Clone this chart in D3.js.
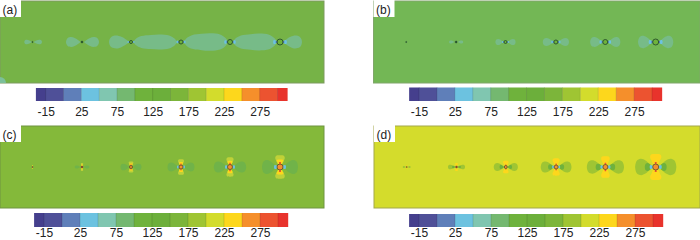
<!DOCTYPE html>
<html><head><meta charset="utf-8">
<script src="https://cdnjs.cloudflare.com/ajax/libs/d3/7.8.5/d3.min.js"></script>
<style>html,body{margin:0;padding:0;background:#fff;overflow:hidden}svg{display:block}text{font-family:"Liberation Sans",Arial,sans-serif;fill:#222}</style>
</head><body><svg id="c" width="700" height="240"></svg>
<script>
// Colour bar
const barColors=["#453f8d","#4f5098","#5f7fb9","#6cc2e0","#80c6b0","#74b870","#6fb23c","#6caf3b","#7cb53a","#9fc533","#d3dc2c","#fdd71c","#f58f2b","#ec5330","#e8332c"];
const barEdges=[-0.55,0,1,2,3,4,5,6,7,8,9,10,11,12,13,13.55];
const tickLabels=["-15","25","75","125","175","225","275"];
const tickIndex=[0,2,4,6,8,10,12];
// Hole positions along the plate, and ring radii
const holes=[32.5,82,131,181,230,280];
const holeR=[0.6,1,1.5,2,2.5,3];
// Contour lobes of plate (a): [hole side, far side, half height]
const lobesA=[[32,24.3,2.3],[33.5,42,2.3],[80.5,66,5],[84,99,5],[129.5,109,6.5],[283,302,6.5]];
// Merged lobes of plate (a) between holes: [from, to, half height]
const bandsA=[[133.5,177,7.6],[184,228,8.8],[233,277,8.4]];
// Lobe reach and half height around each hole
const reachB=[0,6,8.5,11,12.5,14.5], heightB=[0,1.5,3,4,5,6.2];
const reachC=[0,6.3,9,11.5,13.7,15], heightC=[0,1.5,3.3,4.5,5.5,7];
const vertC=[1.5,3,4,5.7,7.2,8.7], widthC=[.6,1.2,2.4,3,3.6,4.8];
const reachD=[3.3,7.5,10.5,13.3,16,17.5], heightD=[1,2.3,4,5.5,6.7,8.2];
const vertD=[1.2,3,4.7,6.7,8.3,10], widthD=[.6,1.4,2.8,3.6,4.3,5.6];
const labels=["(a)","(b)","(c)","(d)"];

const svg=d3.select("#c");
const panels=[
 {label:labels[0],x0:0,x1:324,y0:1,y1:83,bg:"#76b347",edge:"#7c9a5e",bx0:45.7,bx1:277.5,by0:88,by1:101,ty:115.5},
 {label:labels[1],x0:373.5,x1:700,y0:1,y1:83,bg:"#73b755",edge:"#80a66a",bx0:419,bx1:652,by0:87.5,by1:101,ty:115.5},
 {label:labels[2],x0:0,x1:324,y0:126,y1:208,bg:"#84b93a",edge:"#6f9440",bx0:44,bx1:278,by0:213,by1:227,ty:237.4},
 {label:labels[3],x0:374,x1:700,y0:126,y1:208,bg:"#d4dc2c",edge:"#a3a84a",bx0:419,bx1:653,by0:214,by1:227,ty:237.4}
];
const tear=[[0,0],[.15,.35],[.4,.8],[.65,1],[.88,.82],[.97,.42],[1,0]];
const flat=[[0,0],[.05,.4],[.18,.78],[.4,.93],[.6,1],[.82,.86],[.95,.42],[1,0]];
const shape=d3.area().curve(d3.curveCatmullRom.alpha(.5));
panels.forEach((p,pi)=>{
 const g=svg.append("g");
 const x=d3.scaleLinear().domain([0,324]).range([p.x0,p.x1]);
 const y=d3.scaleLinear().domain([-41,41]).range([p.y0,p.y1]);
 g.append("rect").attr("x",p.x0).attr("y",p.y0).attr("width",p.x1-p.x0).attr("height",p.y1-p.y0).attr("fill",p.bg).attr("stroke",p.edge);
 const clip="clip"+pi;
 g.append("clipPath").attr("id",clip).append("rect").attr("x",p.x0).attr("y",p.y0).attr("width",p.x1-p.x0).attr("height",p.y1-p.y0);
 const m=g.append("g").attr("clip-path",`url(#${clip})`);
 const hLobe=(a,b,h,c,prof=tear)=>{
   const pts=prof.map(d=>({x:a+d[0]*(b-a),h:d[1]*h}));
   m.append("path").attr("d",shape.x(d=>x(d.x)).y0(d=>y(-d.h)).y1(d=>y(d.h))(pts)).attr("fill",c);};
 const vLobe=(cx,a,b,w,c)=>{const L=b-a;
   const pts=[[0,.5],[.3,.7],[.7,1],[.95,.8],[1,0]].map(d=>({y:a+d[0]*L,w:d[1]*w}));
   const ar=d3.area().curve(d3.curveCatmullRom.alpha(.5)).y(d=>y(d.y)).x0(d=>x(cx-d.w)).x1(d=>x(cx+d.w));
   m.append("path").attr("d",ar(pts)).attr("fill",c);};
 if(pi===0){
   lobesA.forEach(l=>hLobe(l[0],l[1],l[2],"#77bb88"));
   bandsA.forEach(l=>hLobe(l[0],l[1],l[2],"#77bb88",flat));
   m.append("circle").attr("cx",x(0)).attr("cy",y(41)).attr("r",6).attr("fill","#7cc09a");
 }
 holes.forEach((h,i)=>{
  const r=holeR[i];
  if(pi===1&&reachB[i]>0){[-1,1].forEach(s=>hLobe(h+s*(r+.7),h+s*(r+reachB[i]),heightB[i],"#77bb88"));}
  if(pi===2){
    if(reachC[i]>0)[-1,1].forEach(s=>{hLobe(h+s*(r+.5),h+s*(r+reachC[i]),heightC[i],"#70b349");});
    [-1,1].forEach(s=>{vLobe(h,s*r,s*(r+vertC[i]),widthC[i],"#bfd138");
      vLobe(h,s*r,s*(r+vertC[i]*.52),widthC[i]*.72,"#fdd71c");});
  }
  if(pi===3){
    [-1,1].forEach(s=>{hLobe(h+s*(r+.3),h+s*(r+reachD[i]),heightD[i],"#9fc533");
      if(i>0)hLobe(h+s*(r+.3),h+s*(r+reachD[i]*.45),heightD[i]*.5,"#6fb23c");});
    [-1,1].forEach(s=>vLobe(h,s*r,s*(r+vertD[i]),widthD[i],"#fdd71c"));
  }
  if(pi<2){
    if(i>1)[-1,1].forEach(s=>{hLobe(h+s*r,h+s*(r+r*1.3),r*.7,"#6cc2e0");
      m.append("circle").attr("cx",x(h+s*(r+.5))).attr("cy",y(0)).attr("r",r*.25+.2).attr("fill","#4f70b8");});
    m.append("circle").attr("cx",x(h)).attr("cy",y(0)).attr("r",r).attr("fill",i<2?"#1f4a2c":"#6fb23c").attr("stroke","#274f2e").attr("stroke-width",i<2?.5:.9);
  } else {
    if(i>2)[-1,1].forEach(s=>hLobe(h+s*r*.8,h+s*(r+r*1),r*.7,"#6cc2e0"));
    if(i>1)[-1,1].forEach(s=>vLobe(h,s*r*.8,s*(r+r*.7),r*.28+.15,"#ec5330"));
    m.append("circle").attr("cx",x(h)).attr("cy",y(0)).attr("r",r).attr("fill",i<2?"#a8352a":"#f58f2b").attr("stroke","#5a4a30").attr("stroke-width",i<2?.4:.8);
  }
 });
 // corner label
 const wb=g.append("g");
 wb.append("rect").attr("x",p.x0).attr("y",p.y0-1).attr("width",21).attr("height",17).attr("fill","#fff");
 wb.append("text").attr("x",p.x0+2.5).attr("y",p.y0+12.5).attr("font-size",12).text(p.label);
 // colour bar
 const bx=d3.scaleLinear().domain([0,13]).range([p.bx0,p.bx1]);
 const bg=g.append("g");
 bg.selectAll("rect").data(barColors).join("rect")
  .attr("x",(d,i)=>bx(barEdges[i])).attr("y",p.by0)
  .attr("width",(d,i)=>bx(barEdges[i+1])-bx(barEdges[i])+.3).attr("height",p.by1-p.by0).attr("fill",d=>d);
 bg.selectAll("line").data(barEdges.slice(1,-1)).join("line")
  .attr("x1",d=>bx(d)).attr("x2",d=>bx(d)).attr("y1",p.by0).attr("y2",p.by1)
  .attr("stroke","#000").attr("stroke-opacity",.12);
 const axis=d3.axisBottom(bx).tickValues(tickIndex).tickFormat((d,i)=>tickLabels[i]).tickSize(0);
 const ax=g.append("g").attr("transform",`translate(0,${p.ty-12})`).call(axis);
 ax.select(".domain").remove();
 ax.selectAll("text").attr("font-size",12).attr("font-family",'"Liberation Sans",Arial,sans-serif').attr("fill","#222").attr("dy",0).attr("y",12);
});
</script></body></html>
